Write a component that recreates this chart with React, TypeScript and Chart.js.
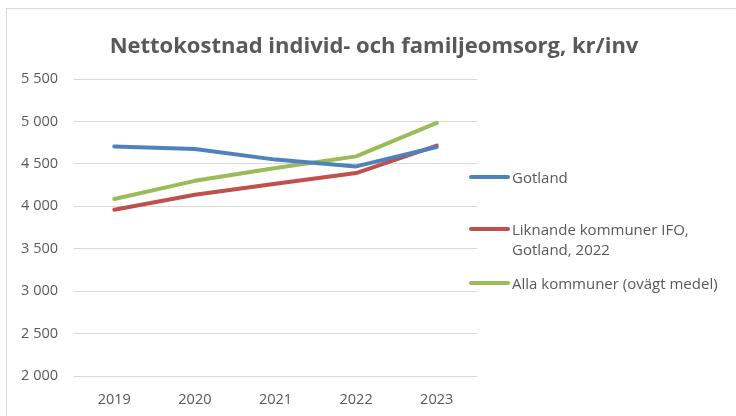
import React, { useEffect, useRef } from "react";
import { Chart, registerables } from "chart.js";

Chart.register(...registerables);

const title = "Nettokostnad individ- och familjeomsorg, kr/inv";
const years = ["2019", "2020", "2021", "2022", "2023"];
const gotland = [4705, 4675, 4550, 4470, 4698];
const liknande = [3960, 4136, 4265, 4392, 4715];
const alla = [4085, 4300, 4452, 4588, 4982];
const seriesNames = ["Gotland", "Liknande kommuner IFO,\nGotland, 2022", "Alla kommuner (ovägt medel)"];
const seriesColors = ["#4F81BD", "#C0504D", "#9BBB59"];
const yMin = 2000;
const yMax = 5500;
const yStep = 500;

const textColor = "#595959";
const fontFamily = "'Open Sans', 'Liberation Sans', sans-serif";

function fmt(v: number): string {
  const s = Math.round(v).toString();
  return s.replace(/\B(?=(\d{3})+(?!\d))/g, " ");
}

export default function App() {
  const ref = useRef<HTMLCanvasElement | null>(null);

  useEffect(() => {
    if (!ref.current) return;
    const values = [gotland, liknande, alla];
    const chart = new Chart(ref.current, {
      type: "line",
      data: {
        labels: years,
        datasets: values.map((d, i) => ({
          label: seriesNames[i],
          data: d,
          borderColor: seriesColors[i],
          backgroundColor: seriesColors[i],
          borderWidth: 4,
          pointRadius: 0,
          tension: 0,
          borderCapStyle: "round" as const,
          borderJoinStyle: "round" as const,
        })),
      },
      options: {
        animation: false,
        responsive: false,
        layout: { padding: { left: 0, right: 259, top: 79, bottom: 0 } },
        plugins: {
          legend: { display: false },
          title: { display: false },
          tooltip: { enabled: false },
        },
        scales: {
          x: {
            offset: true,
            grid: { display: false, drawTicks: false },
            border: { display: false },
            ticks: {
              color: textColor,
              font: { family: fontFamily, size: 14.5 },
              padding: 15,
              maxRotation: 0,
            },
            afterFit: (s: any) => {
              s.height = 40;
            },
          },
          y: {
            min: yMin,
            max: yMax,
            grid: { color: "#d9d9d9", lineWidth: 1, drawTicks: false },
            border: { display: false },
            ticks: {
              stepSize: yStep,
              color: textColor,
              font: { family: fontFamily, size: 14.5 },
              padding: 16,
              callback: (v: any) => fmt(Number(v)),
            },
            afterFit: (s: any) => {
              s.width = 74;
            },
          },
        },
      },
    });
    return () => chart.destroy();
  }, []);

  const legendY = [177, 229, 283];

  return (
    <div style={{ position: "fixed", left: 0, top: 0, width: 736, height: 416, background: "#fff", overflow: "hidden" }}>
      <div
        style={{
          position: "absolute",
          left: 6,
          top: 8,
          width: 800,
          height: 500,
          borderTop: "1px solid #d9d9d9",
          borderLeft: "1px solid #d9d9d9",
        }}
      />
      <canvas ref={ref} width={736} height={416} style={{ position: "absolute", left: 0, top: 0, width: 736, height: 416 }} />
      <div
        style={{
          position: "absolute",
          left: 0,
          width: 748,
          top: 29,
          textAlign: "center",
          fontFamily,
          fontWeight: 700,
          fontSize: 22,
          color: textColor,
          lineHeight: "30px",
          whiteSpace: "nowrap",
        }}
      >
        {title}
      </div>
      {seriesNames.map((name, i) => (
        <div key={i} style={{ position: "absolute", left: 469, top: legendY[i] - 10, display: "flex", alignItems: "flex-start" }}>
          <div style={{ width: 41, height: 4, borderRadius: 2, background: seriesColors[i], marginTop: 8, marginRight: 2 }} />
          <div
            style={{
              fontFamily,
              fontSize: 15,
              color: textColor,
              lineHeight: "20px",
              whiteSpace: "pre",
            }}
          >
            {name}
          </div>
        </div>
      ))}
    </div>
  );
}
